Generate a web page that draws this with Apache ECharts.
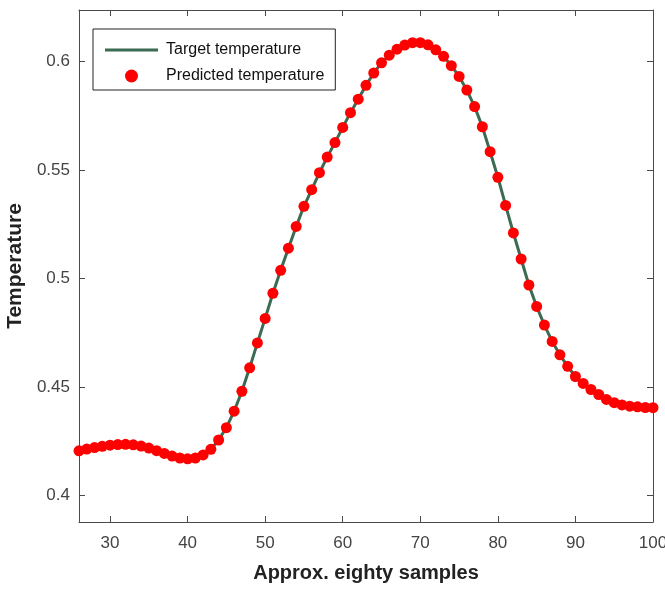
<!DOCTYPE html>
<html>
<head>
<meta charset="utf-8">
<script src="https://cdn.jsdelivr.net/npm/echarts@6/dist/echarts.min.js"></script>
<style>html,body{margin:0;padding:0;background:#fff}#c{width:665px;height:591px}</style>
</head>
<body>
<div id="c"></div>
<script>
// Sample indices (x)
const samples = [26,27,28,29,30,31,32,33,34,35,36,37,38,39,40,41,42,43,44,45,46,47,48,49,50,
  51,52,53,54,55,56,57,58,59,60,61,62,63,64,65,66,67,68,69,70,71,72,73,74,75,
  76,77,78,79,80,81,82,83,84,85,86,87,88,89,90,91,92,93,94,95,96,97,98,99,100];
// Target temperature
const target = [0.4205,0.4213,0.4220,0.4226,0.4231,0.4234,0.4235,0.4233,0.4227,0.4218,
  0.4206,0.4193,0.4181,0.4172,0.4168,0.4172,0.4186,0.4212,0.4255,0.4312,
  0.4388,0.4480,0.4588,0.4703,0.4816,0.4932,0.5038,0.5140,0.5240,0.5333,
  0.5410,0.5488,0.5560,0.5627,0.5697,0.5765,0.5827,0.5891,0.5948,0.5995,
  0.6030,0.6058,0.6077,0.6088,0.6088,0.6078,0.6055,0.6025,0.5982,0.5932,
  0.5869,0.5793,0.5700,0.5585,0.5467,0.5337,0.5210,0.5090,0.4970,0.4871,
  0.4785,0.4710,0.4648,0.4595,0.4548,0.4516,0.4488,0.4465,0.4442,0.4427,
  0.4417,0.4411,0.4408,0.4405,0.4404];
// Predicted temperature
const predicted = [0.4205,0.4213,0.4220,0.4226,0.4231,0.4234,0.4235,0.4233,0.4227,0.4218,
  0.4206,0.4193,0.4181,0.4172,0.4168,0.4172,0.4186,0.4212,0.4255,0.4312,
  0.4388,0.4480,0.4588,0.4703,0.4816,0.4932,0.5038,0.5140,0.5240,0.5333,
  0.5410,0.5488,0.5560,0.5627,0.5697,0.5765,0.5827,0.5891,0.5948,0.5995,
  0.6030,0.6058,0.6077,0.6088,0.6088,0.6078,0.6055,0.6025,0.5982,0.5932,
  0.5869,0.5793,0.5700,0.5585,0.5467,0.5337,0.5210,0.5090,0.4970,0.4871,
  0.4785,0.4710,0.4648,0.4595,0.4548,0.4516,0.4488,0.4465,0.4442,0.4427,
  0.4417,0.4411,0.4408,0.4405,0.4404];
const xTicks = [30,40,50,60,70,80,90,100];
const yTicks = [0.4,0.45,0.5,0.55,0.6];
const seriesNames = ['Target temperature','Predicted temperature'];
const xTitle = 'Approx. eighty samples';
const yTitle = 'Temperature';

const axisColor = '#4a4a4a';
const font = '"Liberation Sans", Arial, sans-serif';
const chart = echarts.init(document.getElementById('c'), null, {renderer:'canvas'});

function xAx(pos, showLabel) {
  return {
    type:'value', position:pos, min:26, max:100,
    name: showLabel ? xTitle : '', nameLocation:'middle', nameGap:41,
    nameTextStyle:{fontFamily:font, fontSize:20, fontWeight:'bold', color:'#222'},
    axisLine:{show:true, onZero:false, lineStyle:{color:axisColor, width:1}},
    axisTick:{show:true, inside:true, length:6, customValues:xTicks, lineStyle:{color:axisColor}},
    axisLabel:{show:showLabel, customValues:xTicks, margin:13, fontFamily:font, fontSize:17, color:'#444'},
    splitLine:{show:false}
  };
}
function yAx(pos, showLabel) {
  return {
    type:'value', position:pos, min:0.38768, max:0.62386,
    name: showLabel ? yTitle : '', nameLocation:'middle', nameGap:45, nameRotate:90,
    nameTextStyle:{fontFamily:font, fontSize:21, fontWeight:'bold', color:'#222'},
    axisLine:{show:true, onZero:false, lineStyle:{color:axisColor, width:1}},
    axisTick:{show:true, inside:true, length:6, customValues:yTicks, lineStyle:{color:axisColor}},
    axisLabel:{show:showLabel, customValues:yTicks, margin:9, fontFamily:font, fontSize:17, color:'#444'},
    splitLine:{show:false}
  };
}

chart.setOption({
  animation:false,
  backgroundColor:'#fff',
  grid:{left:79, right:12, top:10, bottom:69, containLabel:false, outerBoundsMode:'none'},
  xAxis:[xAx('bottom', true), xAx('top', false)],
  yAxis:[yAx('left', true), yAx('right', false)],
  legend:{
    orient:'vertical', left:93, top:29,
    padding:[13,11,6,12], itemGap:10, itemWidth:53, itemHeight:13,
    borderColor:'#222', borderWidth:1, backgroundColor:'#fff',
    textStyle:{fontFamily:font, fontSize:16, lineHeight:13, color:'#111', padding:[0,0,0,3]},
    data:[{name:seriesNames[0], icon:'path://M0,0 L53,0 L53,3 L0,3 Z'},
          {name:seriesNames[1], icon:'circle'}]
  },
  series:[
    {name:seriesNames[0], type:'line', xAxisIndex:0, yAxisIndex:0, clip:false,
     data: samples.map((s,i)=>[s,target[i]]), showSymbol:false, symbol:'none',
     lineStyle:{color:'#3b6b52', width:3}, itemStyle:{color:'#3b6b52'}, z:2},
    {name:seriesNames[1], type:'scatter', xAxisIndex:0, yAxisIndex:0, clip:false,
     data: samples.map((s,i)=>[s,predicted[i]]), symbol:'circle', symbolSize:11,
     itemStyle:{color:'#ff0000', opacity:1}, z:3}
  ]
});
</script>
</body>
</html>
